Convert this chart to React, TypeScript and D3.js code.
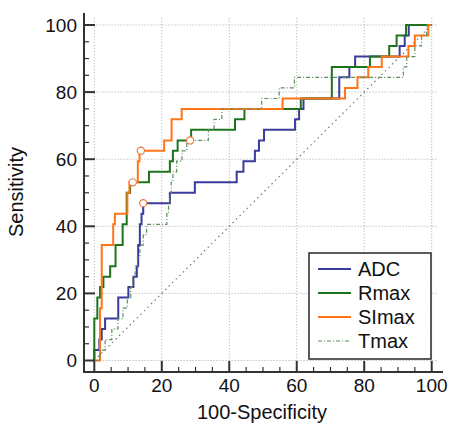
import React from "react";
import * as d3 from "d3";

// ROC operating points: [100-Specificity, Sensitivity]
const adcPoints: [number, number][] = [
  [0, 0], [0, 3.1], [1.5, 6.25], [2.2, 9.4], [3.2, 12.5], [7.1, 18.75], [10.1, 21.9],
  [11.6, 25], [12.6, 28.1], [13, 34.4], [13.5, 40.6], [14, 43.75], [14.5, 46.9],
  [22.4, 50], [29.8, 53.1], [42.2, 56.25], [44.2, 59.4], [47.6, 62.5], [48.8, 65.6],
  [50.3, 68.75], [59.5, 71.9], [60.7, 75], [62, 78.1], [72.6, 84.4], [75.6, 87.5],
  [77.3, 90.6], [90.5, 93.75], [92, 96.9], [93.2, 100], [100, 100],
];
const rmaxPoints: [number, number][] = [
  [0, 0], [0, 12.5], [0.9, 18.75], [1.7, 21.9], [2.7, 25], [4.7, 28.1], [6.3, 34.4],
  [8.4, 40.6], [9.6, 50], [10.6, 53.1], [16.2, 56.25], [22.4, 59.4], [23.3, 62.5],
  [24.7, 65.6], [28.7, 68.75], [41.7, 71.9], [44.5, 75], [61.2, 78.1], [70.4, 87.5],
  [81.7, 90.6], [87.4, 93.75], [89.6, 96.9], [92.4, 100], [100, 100],
];
const simaxPoints: [number, number][] = [
  [0, 0], [1.7, 15.6], [2.2, 34.4], [5.6, 40.6], [6.1, 43.75], [9.8, 50], [10.4, 53.1],
  [12.9, 59.4], [13.4, 62.5], [20.7, 65.6], [22.9, 71.9], [25.9, 75], [55.8, 78.1],
  [74.3, 81.25], [78, 84.4], [81.2, 87.5], [85.2, 90.6], [93.1, 93.75], [95, 96.9],
  [99, 100], [100, 100],
];
const tmaxPoints: [number, number][] = [
  [0, 0], [1.7, 3.1], [3.2, 6.25], [5.2, 9.4], [7, 12.5], [8.5, 15.6], [9.8, 18.75],
  [10.8, 21.9], [11.4, 25], [12.1, 28.1], [12.8, 31.25], [13.5, 34.4], [14.5, 37.5],
  [15.5, 40.6], [21.5, 43.75], [22, 46.9], [22.4, 50], [22.8, 53.1], [23.3, 56.25],
  [24.4, 59.4], [26, 62.5], [27.4, 65.6], [33.8, 68.75], [35.5, 71.9], [37.8, 75],
  [49.6, 78.1], [54.8, 81.25], [59.3, 84.4], [91.6, 87.5], [92.6, 90.6], [95, 93.75],
  [97, 96.9], [98.5, 100], [100, 100],
];
// optimal criterion markers
const cutoffPoints: [number, number][] = [
  [14.5, 46.9], [11.4, 53.1], [13.8, 62.5], [28.4, 65.6],
];
const majorTicks = [0, 20, 40, 60, 80, 100];
const minorTicks = d3.range(-0, 101, 5);

const series = [
  { name: "ADC", data: adcPoints, color: "#3b3b9e", width: 2, dash: "" },
  { name: "Rmax", data: rmaxPoints, color: "#1d741d", width: 2, dash: "" },
  { name: "SImax", data: simaxPoints, color: "#ff7517", width: 2, dash: "" },
  { name: "Tmax", data: tmaxPoints, color: "#5c8f5c", width: 1.2, dash: "4,2,1,2" },
];

const font = "'Liberation Sans', Arial, sans-serif";

export default function App() {
  const W = 450, H = 428;
  const x = d3.scaleLinear().domain([0, 100]).range([94.3, 431.7]);
  const y = d3.scaleLinear().domain([0, 100]).range([360.5, 25]);
  const axisLeft = 84, axisBottom = 372;

  const line = d3
    .line<[number, number]>()
    .x(d => x(d[0]))
    .y(d => y(d[1]))
    .curve(d3.curveStepAfter);

  return (
    <svg width={W} height={H} style={{ position: "absolute", left: 0, top: 0, background: "#fff" }}>
      {/* grid */}
      {majorTicks.map(t => (
        <g key={"g" + t}>
          <line x1={x(t)} x2={x(t)} y1={y(-2)} y2={y(102)} stroke="#a8a8a8" strokeDasharray="1,2" />
          <line x1={x(-2)} x2={x(102)} y1={y(t)} y2={y(t)} stroke="#a8a8a8" strokeDasharray="1,2" />
        </g>
      ))}
      {/* reference diagonal */}
      <line x1={x(0)} y1={y(0)} x2={x(100)} y2={y(100)} stroke="#777" strokeWidth={1.2} strokeDasharray="1.5,3.5" />

      {/* curves */}
      {series.map(s => (
        <path key={s.name} d={line(s.data) || ""} fill="none" stroke={s.color}
          strokeWidth={s.width} strokeDasharray={s.dash} />
      ))}
      {cutoffPoints.map((p, i) => (
        <circle key={"c" + i} cx={x(p[0])} cy={y(p[1])} r={3.6} fill="#fff" stroke="#f07a3a" strokeWidth={1.2} />
      ))}

      {/* axes */}
      <line x1={axisLeft} x2={axisLeft} y1={13} y2={axisBottom + 1} stroke="#333" strokeWidth={2} />
      <line x1={axisLeft - 1} x2={443} y1={axisBottom} y2={axisBottom} stroke="#333" strokeWidth={2} />
      {minorTicks.map(t => {
        const major = t % 20 === 0;
        return (
          <g key={"t" + t}>
            <line x1={axisLeft} x2={axisLeft + (major ? 11 : 5)} y1={y(t)} y2={y(t)} stroke="#333" strokeWidth={major ? 2 : 1.2} />
            <line x1={x(t)} x2={x(t)} y1={axisBottom} y2={axisBottom - (major ? 11 : 5)} stroke="#333" strokeWidth={major ? 2 : 1.2} />
          </g>
        );
      })}
      {majorTicks.map(t => (
        <g key={"l" + t} fontFamily={font} fontSize={19} fill="#111">
          <text x={77} y={y(t)} dy="0.36em" textAnchor="end">{t}</text>
          <text x={x(t)} y={392} textAnchor="middle">{t}</text>
        </g>
      ))}
      <text x={262} y={419} textAnchor="middle" fontFamily={font} fontSize={20} fill="#111">100-Specificity</text>
      <text transform="translate(23,192) rotate(-90)" textAnchor="middle" fontFamily={font} fontSize={20} fill="#111">Sensitivity</text>

      {/* legend */}
      <rect x={309} y={253} width={122} height={106} fill="#fff" stroke="#333" strokeWidth={1.6} />
      {series.map((s, i) => {
        const ly = 269 + i * 24;
        return (
          <g key={"lg" + s.name}>
            <line x1={318} x2={351} y1={ly} y2={ly} stroke={s.color} strokeWidth={s.width} strokeDasharray={s.dash} />
            <text x={358} y={ly} dy="0.36em" fontFamily={font} fontSize={20} fill="#111">{s.name}</text>
          </g>
        );
      })}
    </svg>
  );
}
